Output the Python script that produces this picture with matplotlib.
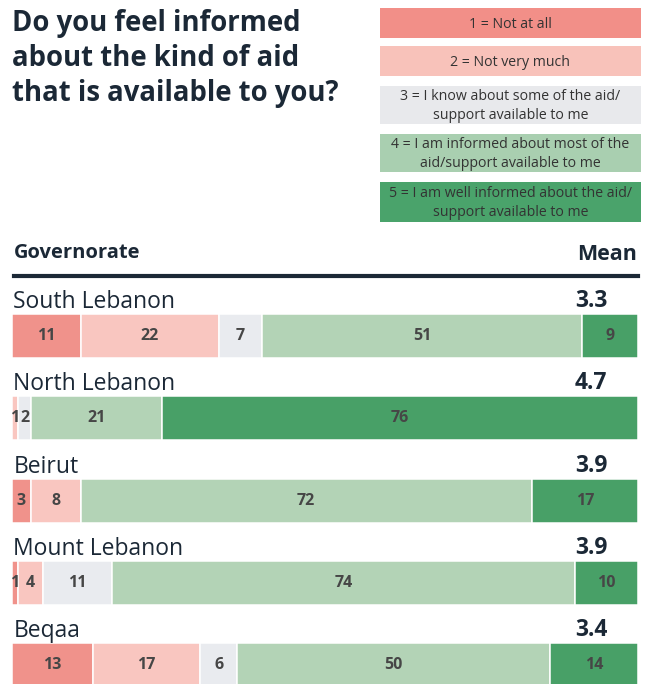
import matplotlib
matplotlib.use("Agg")
import matplotlib.pyplot as plt
from matplotlib.patches import Rectangle

plt.rcParams['font.family'] = ['Open Sans', 'DejaVu Sans']

governorates = ["South Lebanon", "North Lebanon", "Beirut", "Mount Lebanon", "Beqaa"]
means = ["3.3", "4.7", "3.9", "3.9", "3.4"]
not_at_all = [11, 0, 3, 1, 13]
not_very_much = [22, 1, 8, 4, 17]
know_some = [7, 2, 0, 11, 6]
informed_most = [51, 21, 72, 74, 50]
well_informed = [9, 76, 17, 10, 14]
series = [not_at_all, not_very_much, know_some, informed_most, well_informed]

legend_labels = ["1 = Not at all",
                 "2 = Not very much",
                 "3 = I know about some of the aid/\nsupport available to me",
                 "4 = I am informed about most of the\naid/support available to me",
                 "5 = I am well informed about the aid/\nsupport available to me"]
bar_colors = ["#f0928b", "#f9c6c0", "#e9ebef", "#b3d3b6", "#48a067"]
legend_colors = ["#f28f88", "#f8c2ba", "#e8e9ec", "#a9cfb0", "#4aa36b"]

W, H = 649, 684
fig = plt.figure(figsize=(W / 100, H / 100), dpi=100)
navy = "#1b2836"

def px(x, y):
    return x / W, 1 - y / H

# Title
for k, line in enumerate(["Do you feel informed", "about the kind of aid", "that is available to you?"]):
    fig.text(*px(12, 24 + 35 * k), line, ha="left", va="center", fontsize=19.8,
             fontweight="bold", color=navy)

# Legend boxes
boxes = [(8, 38), (46, 76), (86, 124), (134, 172), (182, 222)]
for (t, b), lab, col in zip(boxes, legend_labels, legend_colors):
    x0, y0 = px(380, b)
    fig.patches.append(Rectangle((x0, y0), 261 / W, (b - t) / H, transform=fig.transFigure,
                                 facecolor=col, edgecolor="none"))
    fig.text(*px(510.5, (t + b) / 2 + 1), lab, ha="center", va="center", fontsize=10.2,
             color="#333333", linespacing=1.35)

# Header
fig.text(*px(14, 253), "Governorate", ha="left", va="center", fontsize=14.5, fontweight="bold", color=navy)
fig.text(*px(637, 255), "Mean", ha="right", va="center", fontsize=15.5, fontweight="bold", color=navy)
fig.add_artist(plt.Line2D([14 / W, 638 / W], [1 - 276 / H] * 2, color=navy, lw=3,
                          transform=fig.transFigure))

# Bars axis
ax = fig.add_axes([12 / W, 0, 626 / W, (H - 280) / H])
step = 82.3
top_val = (280 - 336) / step
bot_val = (684 - 336) / step
ax.set_ylim(bot_val, top_val)
ax.set_xlim(0, 100)
ax.axis("off")

ypos = list(range(len(governorates)))
left = [0] * len(governorates)
for vals, col in zip(series, bar_colors):
    ax.barh(ypos, vals, left=left, height=44 / step, color=col, edgecolor="white", linewidth=1.1)
    for i, v in enumerate(vals):
        if v > 0:
            ax.text(left[i] + v / 2, i, str(v), ha="center", va="center", fontsize=11.5,
                    fontweight="bold", color="#464646")
    left = [l + v for l, v in zip(left, vals)]

for i, (g, m) in enumerate(zip(governorates, means)):
    ax.text(0.2, i - 34 / step, g, ha="left", va="center", fontsize=16.5, color=navy)
    ax.text(95.1, i - 35 / step, m, ha="right", va="center", fontsize=16.5, fontweight="bold", color=navy)

fig.savefig("out.png", dpi=100)
